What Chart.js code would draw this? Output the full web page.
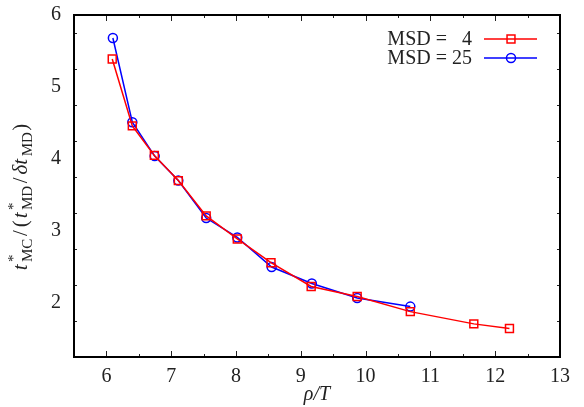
<!DOCTYPE html>
<html>
<head>
<meta charset="utf-8">
<script src="https://cdn.jsdelivr.net/npm/chart.js@4.4.1/dist/chart.umd.min.js"></script>
<style>
  html, body { margin: 0; padding: 0; background: #fff; }
  #wrap { width: 584px; height: 407px; position: relative; }
</style>
</head>
<body>
<div id="wrap"><canvas id="c" width="584" height="407"></canvas></div>
<script>
// ---- data ----
const rhoOverT4  = [6.09, 6.40, 6.74, 7.11, 7.54, 8.02, 8.54, 9.16, 9.87, 10.69, 11.67, 12.22];
const ratioMSD4  = [5.39, 4.46, 4.05, 3.70, 3.21, 2.89, 2.56, 2.23, 2.09, 1.88, 1.71, 1.645];
const rhoOverT25 = [6.10, 6.40, 6.745, 7.11, 7.54, 8.02, 8.55, 9.17, 9.87, 10.69];
const ratioMSD25 = [5.68, 4.51, 4.04, 3.70, 3.18, 2.91, 2.50, 2.27, 2.07, 1.95];
const xTickValues = [6, 7, 8, 9, 10, 11, 12, 13];
const yTickValues = [2, 3, 4, 5, 6];
const legendLabels = ["MSD =   4", "MSD = 25"];

const SERIF = "'Liberation Serif', 'DejaVu Serif', serif";

function pts(xs, ys) { return xs.map((x, i) => ({ x: x, y: ys[i] })); }

const frameAndTicks = {
  id: 'frameAndTicks',
  afterDatasetsDraw(chart) {
    const ctx = chart.ctx, a = chart.chartArea;
    const xs = chart.scales.x, ys = chart.scales.y;
    ctx.save();
    ctx.strokeStyle = '#222';
    ctx.lineWidth = 1;
    ctx.beginPath();
    const maj = 6, min = 3;
    for (let v = xs.min; v <= xs.max + 1e-9; v += 0.5) {
      const px = Math.round(xs.getPixelForValue(v)) + 0.5;
      const L = Math.abs(v - Math.round(v)) < 1e-9 ? maj : min;
      ctx.moveTo(px, a.bottom); ctx.lineTo(px, a.bottom - L);
      ctx.moveTo(px, a.top); ctx.lineTo(px, a.top + L);
    }
    for (let v = ys.min; v <= ys.max + 1e-9; v += 0.5) {
      const py = Math.round(ys.getPixelForValue(v)) + 0.5;
      const L = Math.abs(v - Math.round(v)) < 1e-9 ? maj : min;
      ctx.moveTo(a.left, py); ctx.lineTo(a.left + L, py);
      ctx.moveTo(a.right, py); ctx.lineTo(a.right - L, py);
    }
    ctx.stroke();
    ctx.strokeStyle = '#000';
    ctx.lineWidth = 2;
    ctx.strokeRect(a.left, a.top, a.right - a.left, a.bottom - a.top);
    ctx.restore();
  }
};

const customLegend = {
  id: 'customLegend',
  afterDraw(chart) {
    const ctx = chart.ctx;
    const rows = [
      { label: legendLabels[0], color: '#ff0000', y: 39 },
      { label: legendLabels[1], color: '#0000ff', y: 58 }
    ];
    ctx.save();
    ctx.font = "20px " + SERIF;
    ctx.textAlign = 'right';
    ctx.textBaseline = 'middle';
    rows.forEach((r, i) => {
      ctx.fillStyle = '#222';
      ctx.fillText(r.label, 472, r.y + 1);
      ctx.strokeStyle = r.color;
      ctx.lineWidth = 1.5;
      ctx.beginPath();
      ctx.moveTo(484, r.y); ctx.lineTo(537, r.y);
      ctx.stroke();
      const ds = chart.data.datasets[i];
      ctx.fillStyle = 'rgba(0,0,0,0)';
      Chart.helpers.drawPoint(ctx, {
        pointStyle: ds.pointStyle, radius: ds.pointRadius, rotation: 0, borderWidth: 1.5
      }, 511, r.y);
    });
    ctx.restore();
  }
};

const yTitle = {
  id: 'yTitle',
  afterDraw(chart) {
    const ctx = chart.ctx;
    const big = "21px " + SERIF, bigIt = "italic 21px " + SERIF;
    const small = "15px " + SERIF;
    const segs = [
      { t: 't', f: bigIt },
      { sup: '*', sub: 'MC' },
      { t: '/', f: big, g: 2 },
      { t: '(', f: big },
      { t: 't', f: bigIt },
      { sup: '*', sub: 'MD' },
      { t: '/', f: big, g: 2 },
      { t: 'δt', f: bigIt },
      { sub: 'MD' },
      { t: ')', f: big }
    ];
    const GAP = 2;
    function width(s) {
      const g = (s.g || 0) + GAP;
      if (s.t !== undefined) { ctx.font = s.f; return ctx.measureText(s.t).width + g; }
      ctx.font = small;
      const w1 = s.sup ? ctx.measureText(s.sup).width : 0;
      const w2 = s.sub ? ctx.measureText(s.sub).width : 0;
      return Math.max(w1, w2) + g;
    }
    ctx.save();
    let total = 0;
    segs.forEach(s => total += width(s));
    const cx = 27, cy = 196;
    ctx.translate(cx, cy);
    ctx.rotate(-Math.PI / 2);
    ctx.fillStyle = '#222';
    ctx.textBaseline = 'alphabetic';
    ctx.textAlign = 'left';
    let x = -total / 2;
    segs.forEach(s => {
      const w = width(s);
      const pre = (s.g || 0) / 2;
      if (s.t !== undefined) {
        ctx.font = s.f; ctx.fillText(s.t, x + pre, 0);
      } else {
        ctx.font = small;
        if (s.sup) ctx.fillText(s.sup, x + 0.5, -9);
        if (s.sub) ctx.fillText(s.sub, x + 0.5, 5);
      }
      x += w;
    });
    ctx.restore();
  }
};

new Chart(document.getElementById('c'), {
  type: 'scatter',
  data: {
    datasets: [
      {
        label: legendLabels[0],
        data: pts(rhoOverT4, ratioMSD4),
        showLine: true,
        borderColor: '#ff0000',
        backgroundColor: 'rgba(0,0,0,0)',
        borderWidth: 1.5,
        pointStyle: 'rect',
        pointRadius: 5.6,
        pointBorderWidth: 1.5,
        pointBorderColor: '#ff0000',
        pointBackgroundColor: 'rgba(0,0,0,0)'
      },
      {
        label: legendLabels[1],
        data: pts(rhoOverT25, ratioMSD25),
        showLine: true,
        borderColor: '#0000ff',
        backgroundColor: 'rgba(0,0,0,0)',
        borderWidth: 1.5,
        pointStyle: 'circle',
        pointRadius: 4.5,
        pointBorderWidth: 1.5,
        pointBorderColor: '#0000ff',
        pointBackgroundColor: 'rgba(0,0,0,0)'
      }
    ]
  },
  options: {
    responsive: false,
    animation: false,
    devicePixelRatio: 1,
    layout: { padding: { left: 0, right: 24, top: 15, bottom: 0 } },
    plugins: {
      legend: { display: false },
      tooltip: { enabled: false }
    },
    scales: {
      x: {
        type: 'linear',
        min: 5.5, max: 13,
        grid: { display: false, drawTicks: false },
        border: { display: false },
        afterBuildTicks(scale) { scale.ticks = xTickValues.map(v => ({ value: v })); },
        afterFit(scale) { scale.height = 50; scale.paddingLeft = 0; scale.paddingRight = 0; },
        ticks: {
          color: '#222',
          font: { family: SERIF, size: 20 },
          padding: 8,
          maxRotation: 0,
          callback: v => String(v)
        },
        title: {
          display: true,
          text: 'ρ/T',
          color: '#222',
          font: { family: SERIF, size: 20, style: 'italic' },
          padding: { top: 0, bottom: 0 }
        }
      },
      y: {
        type: 'linear',
        min: 1.25, max: 6,
        grid: { display: false, drawTicks: false },
        border: { display: false },
        afterBuildTicks(scale) { scale.ticks = yTickValues.map(v => ({ value: v })); },
        afterFit(scale) { scale.width = 74; scale.paddingTop = 0; scale.paddingBottom = 0; },
        ticks: {
          color: '#222',
          font: { family: SERIF, size: 20 },
          padding: 13,
          callback: v => String(v)
        }
      }
    }
  },
  plugins: [frameAndTicks, customLegend, yTitle]
});
</script>
</body>
</html>
